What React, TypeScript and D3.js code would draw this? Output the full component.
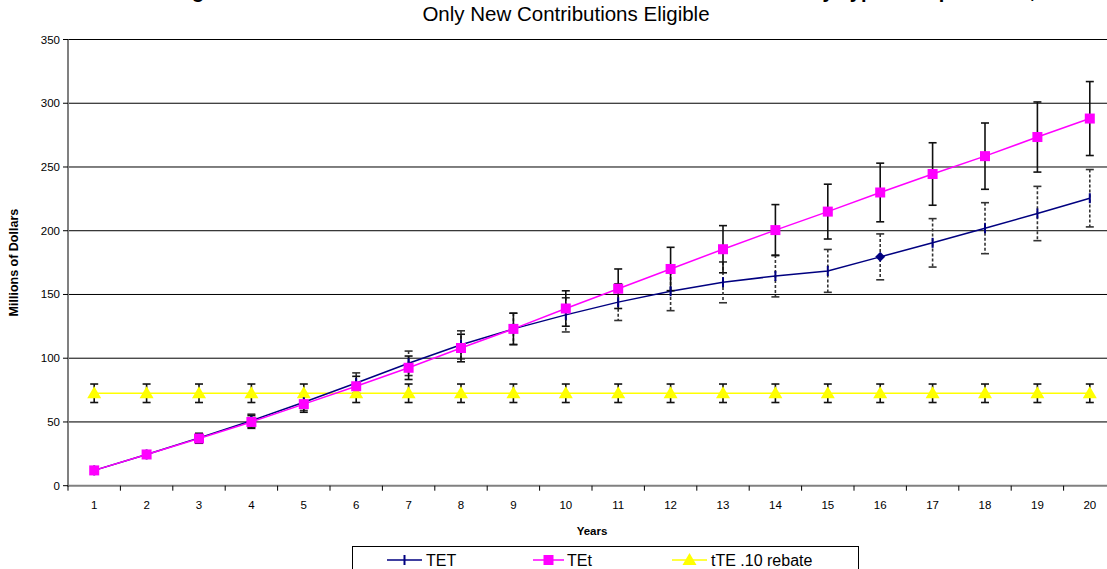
import React from "react";
import * as d3 from "d3";

const years = [1, 2, 3, 4, 5, 6, 7, 8, 9, 10, 11, 12, 13, 14, 15, 16, 17, 18, 19, 20];
const tetValues = [12, 24.5, 37.5, 51, 65.5, 80.5, 96, 110.5, 123, 134, 144, 152.5, 159.5, 164.5, 168.5, 179.5, 190.5, 202, 213.5, 225.5];
const tetErrors = [1.2, 2.5, 3.7, 5.1, 6.5, 8, 9.6, 11, 12.3, 13.4, 14.4, 15.2, 16, 16.4, 16.8, 18, 19, 20, 21.3, 22.5];
const tEtValues = [12, 24.5, 37, 50, 64, 78, 92.5, 108, 123, 139, 154.5, 170, 185.5, 200.5, 215, 230, 244.5, 258.5, 273.5, 288];
const tEtErrors = [1.2, 2.5, 3.7, 5, 6.4, 7.8, 9.2, 10.8, 12.3, 13.9, 15.5, 17, 18.5, 20, 21.5, 23, 24.5, 26, 27.5, 29];
const rebateValues = [72.5, 72.5, 72.5, 72.5, 72.5, 72.5, 72.5, 72.5, 72.5, 72.5, 72.5, 72.5, 72.5, 72.5, 72.5, 72.5, 72.5, 72.5, 72.5, 72.5];
const rebateErrors = [7.25, 7.25, 7.25, 7.25, 7.25, 7.25, 7.25, 7.25, 7.25, 7.25, 7.25, 7.25, 7.25, 7.25, 7.25, 7.25, 7.25, 7.25, 7.25, 7.25];
const yTicks = [0, 50, 100, 150, 200, 250, 300, 350];
const seriesNames = ["TET", "TEt", "tTE .10 rebate"];
const titleText = "Change in Revenue Collected from Retirement Account Contributions by Type of Expenditure,";
const subtitleText = "Only New Contributions Eligible";
const diamondYear = 16;

const FONT = "'Liberation Sans', Arial, Helvetica, sans-serif";

export default function App() {
  const W = 1107;
  const H = 569;
  const left = 68;
  const right = 1116;
  const top = 39.5;
  const bottom = 485.7;

  const x = d3.scaleBand<number>().domain(years).range([left, right]).paddingInner(0).paddingOuter(0);
  const cx = (d: number) => (x(d) as number) + x.bandwidth() / 2;
  const y = d3.scaleLinear().domain([0, 350]).range([bottom, top]);

  const line = d3
    .line<number>()
    .x((_, i) => cx(years[i]))
    .y((v) => y(v));

  const boundaries = [...years.map((d) => x(d) as number), right];

  const errBars = (vals: number[], errs: number[], dashed: boolean, key: string) =>
    vals.map((v, i) => {
      const xx = cx(years[i]);
      const y1 = y(v + errs[i]);
      const y2 = y(v - errs[i]);
      return (
        <g key={key + i} stroke={dashed ? "#333" : "#111"} strokeWidth={1.6}>
          <line x1={xx} x2={xx} y1={y1} y2={y2} strokeDasharray={dashed ? "3,2" : undefined} />
          <line x1={xx - 4} x2={xx + 4} y1={y1} y2={y1} />
          <line x1={xx - 4} x2={xx + 4} y1={y2} y2={y2} />
        </g>
      );
    });

  const tri = (xx: number, yy: number) => `M${xx},${yy - 7}L${xx + 7},${yy + 5}L${xx - 7},${yy + 5}Z`;

  return (
    <svg width={W} height={H} style={{ position: "absolute", left: 0, top: 0, background: "#fff" }} fontFamily={FONT}>
      <rect x={0} y={0} width={W} height={H} fill="#fff" />
      {/* titles */}
      <text x={142} y={-2.5} textAnchor="start" fontSize={20} fontWeight="bold" fill="#000">
        {titleText}
      </text>
      <text x={566} y={21} textAnchor="middle" fontSize={20.5} fill="#000">
        {subtitleText}
      </text>

      {/* gridlines */}
      {yTicks
        .filter((t) => t > 0)
        .map((t) => (
          <line
            key={"g" + t}
            x1={left}
            x2={W}
            y1={y(t)}
            y2={y(t)}
            stroke={t === 50 ? "#666" : "#000"}
            strokeWidth={t === 50 ? 1.8 : 1}
          />
        ))}

      {/* y axis */}
      <line x1={left} x2={left} y1={top} y2={bottom + 1} stroke="#808080" strokeWidth={2} />
      {yTicks.map((t) => (
        <g key={"yt" + t}>
          <line x1={left - 5} x2={left} y1={y(t)} y2={y(t)} stroke="#000" strokeWidth={1} />
          <text x={left - 8} y={y(t)} dy="0.35em" textAnchor="end" fontSize={11.5} fill="#000">
            {t}
          </text>
        </g>
      ))}
      <text
        transform={`translate(18,${(top + bottom) / 2}) rotate(-90)`}
        textAnchor="middle"
        fontSize={12.5}
        fontWeight="bold"
        fill="#000"
      >
        Millions of Dollars
      </text>

      {/* x axis */}
      <line x1={left} x2={W} y1={bottom} y2={bottom} stroke="#808080" strokeWidth={2} />
      {boundaries.map((b, i) => (
        <line key={"xt" + i} x1={b} x2={b} y1={bottom} y2={bottom + 5} stroke="#000" strokeWidth={1} />
      ))}
      {years.map((d) => (
        <text key={"xl" + d} x={cx(d)} y={509} textAnchor="middle" fontSize={11.5} fill="#000">
          {d}
        </text>
      ))}
      <text x={(left + right) / 2} y={535} textAnchor="middle" fontSize={11.5} fontWeight="bold" fill="#000">
        Years
      </text>

      {/* lines */}
      <path d={line(rebateValues) || ""} fill="none" stroke="#FFFF00" strokeWidth={1.5} />
      <path d={line(tetValues) || ""} fill="none" stroke="#000080" strokeWidth={1.5} />
      <path d={line(tEtValues) || ""} fill="none" stroke="#FF00FF" strokeWidth={1.5} />

      {/* error bars */}
      {errBars(rebateValues, rebateErrors, false, "re")}
      {errBars(tetValues, tetErrors, true, "te")}
      {errBars(tEtValues, tEtErrors, false, "tt")}

      {/* markers */}
      {rebateValues.map((v, i) => (
        <path key={"rm" + i} d={tri(cx(years[i]), y(v))} fill="#FFFF00" />
      ))}
      {tetValues.map((v, i) => {
        const xx = cx(years[i]);
        const yy = y(v);
        if (years[i] === diamondYear) {
          return <path key={"tm" + i} d={`M${xx},${yy - 5}L${xx + 5},${yy}L${xx},${yy + 5}L${xx - 5},${yy}Z`} fill="#000080" />;
        }
        return <line key={"tm" + i} x1={xx} x2={xx} y1={yy - 5} y2={yy + 5} stroke="#000080" strokeWidth={2} />;
      })}
      {tEtValues.map((v, i) => (
        <rect key={"sm" + i} x={cx(years[i]) - 5} y={y(v) - 5} width={10} height={10} fill="#FF00FF" />
      ))}

      {/* legend */}
      <rect x={352.5} y={546.5} width={506} height={40} fill="#fff" stroke="#000" strokeWidth={1} />
      <g>
        <line x1={387} x2={422} y1={560} y2={560} stroke="#000080" strokeWidth={1.5} />
        <line x1={404.5} x2={404.5} y1={555} y2={565} stroke="#000080" strokeWidth={2} />
        <text x={426} y={560} dy="0.35em" fontSize={16} fill="#000">
          {seriesNames[0]}
        </text>
        <line x1={533} x2={564} y1={560} y2={560} stroke="#FF00FF" strokeWidth={1.5} />
        <rect x={543.5} y={555} width={10} height={10} fill="#FF00FF" />
        <text x={567} y={560} dy="0.35em" fontSize={16} fill="#000">
          {seriesNames[1]}
        </text>
        <line x1={672} x2={707} y1={560} y2={560} stroke="#FFFF00" strokeWidth={1.5} />
        <path d={tri(689.5, 560)} fill="#FFFF00" />
        <text x={711} y={560} dy="0.35em" fontSize={16} fill="#000">
          {seriesNames[2]}
        </text>
      </g>
    </svg>
  );
}
